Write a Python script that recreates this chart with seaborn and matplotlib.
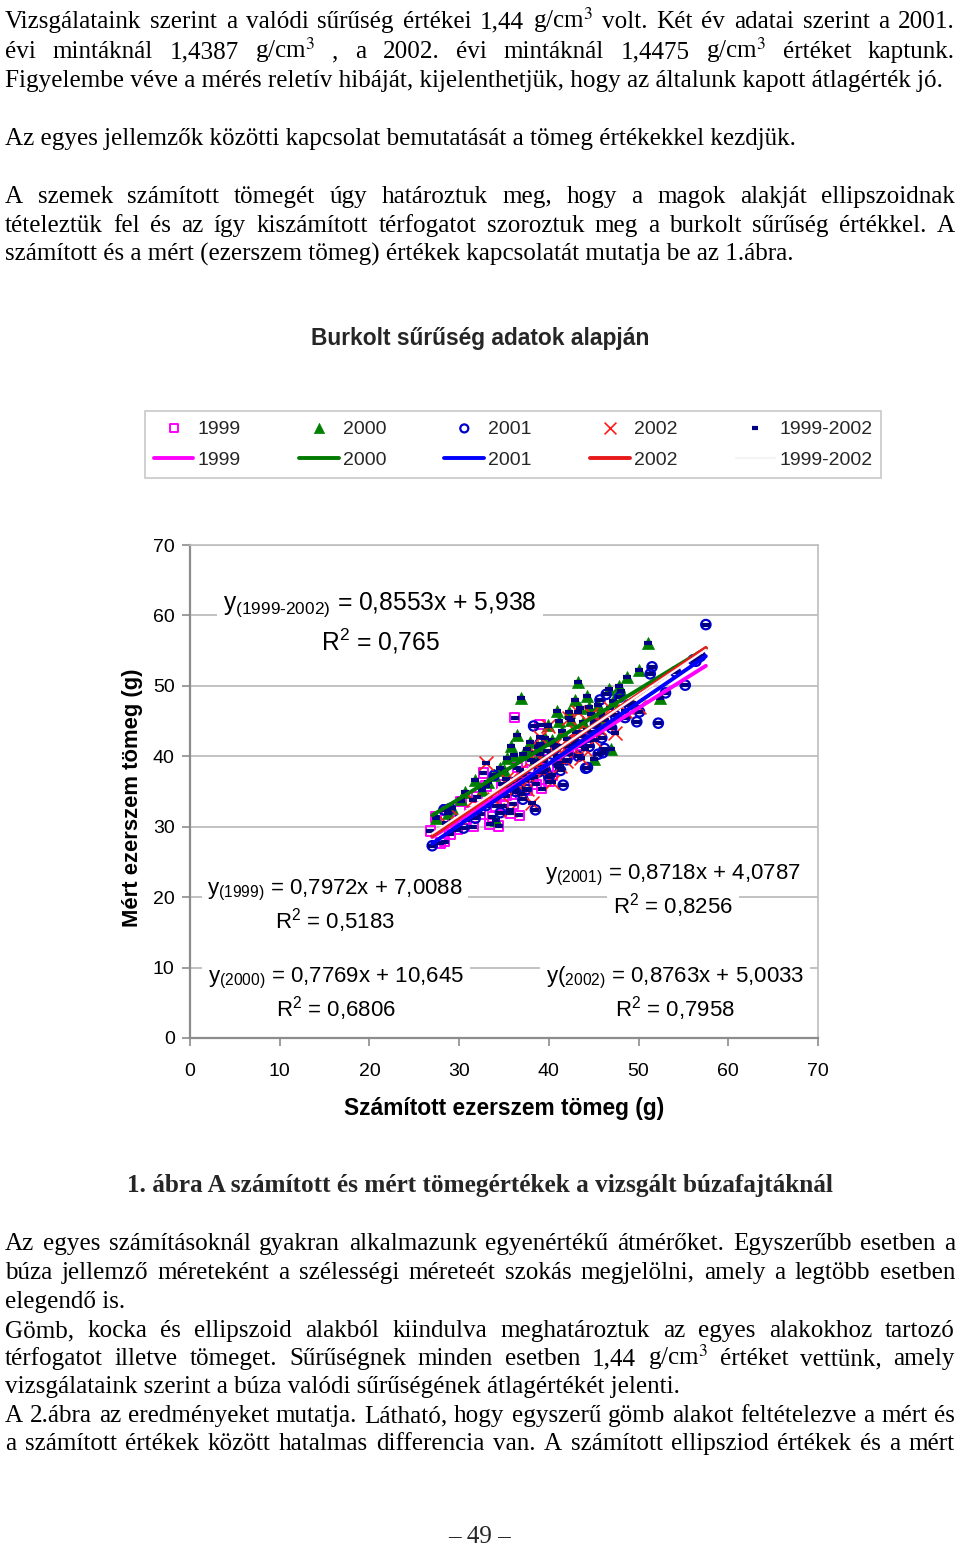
import numpy as np
import pandas as pd
import matplotlib
matplotlib.use("Agg")
import matplotlib.pyplot as plt
import seaborn as sns

# ---------------- data ----------------
years = ["1999", "2000", "2001", "2002", "1999-2002"]

x1999 = [26.8, 27.4, 27.9, 28.4, 28.6, 29.3, 29.8, 30.2, 30.8, 31.6, 32.0, 32.7, 33.0, 33.4, 33.7, 34.1, 34.4,
         34.8, 35.2, 35.7, 36.2, 36.5, 36.7, 37.1, 37.6, 38.0, 38.6, 39.0, 39.2, 39.8, 40.4, 41.0, 42.2, 43.5,
         34.9, 35.5, 36.0, 36.9, 37.3, 38.3, 39.5, 40.0, 31.2, 32.4, 29.0]
y1999 = [29.4, 31.4, 27.7, 27.9, 32.4, 30.8, 29.6, 33.6, 31.0, 30.0, 34.2, 37.6, 35.8, 30.4, 31.4, 32.9, 30.1,
         36.0, 34.4, 31.9, 45.5, 38.4, 31.6, 37.8, 35.2, 39.5, 36.0, 44.5, 35.4, 40.8, 37.3, 38.6, 40.3, 41.5,
         33.0, 35.8, 33.2, 34.6, 36.6, 37.0, 38.2, 36.4, 32.2, 31.8, 28.9]

x2000 = [27.4, 28.8, 29.2, 30.2, 30.6, 31.8, 32.5, 33.2, 33.9, 34.1, 34.6, 35.3, 35.8, 36.4, 36.9, 37.1, 37.6,
         38.3, 39.0, 39.6, 40.4, 40.9, 41.5, 42.2, 42.9, 43.2, 43.8, 44.5, 45.0, 45.8, 46.7, 46.9, 47.8, 48.7,
         49.3, 50.1, 51.0, 52.4, 35.0, 36.1, 37.9, 38.8, 39.9, 41.1, 42.5, 43.5, 44.2, 45.5, 46.3, 47.2, 48.0]
y2000 = [31.3, 32.0, 32.6, 33.9, 34.9, 36.6, 35.2, 36.3, 37.3, 30.9, 38.4, 39.8, 41.5, 43.0, 48.3, 40.3, 41.1,
         39.2, 40.3, 42.6, 42.3, 46.5, 43.6, 46.3, 48.0, 50.5, 44.8, 47.0, 39.6, 46.0, 49.5, 41.1, 50.0, 51.2,
         47.6, 52.3, 56.1, 48.3, 38.0, 40.2, 42.0, 41.3, 44.5, 45.0, 45.2, 46.8, 48.5, 47.3, 45.1, 47.9, 49.2]

x2001 = [27.0, 28.3, 29.0, 30.5, 31.8, 33.0, 33.9, 34.6, 35.7, 36.3, 37.1, 37.8, 38.3, 38.5, 39.0, 39.6, 40.4,
         41.0, 41.6, 42.2, 42.7, 43.3, 44.1, 44.3, 44.8, 45.5, 45.7, 45.9, 46.0, 46.2, 46.4, 47.0, 47.9, 48.5,
         49.8, 50.1, 51.3, 51.5, 52.2, 54.1, 55.2, 56.1, 56.4, 56.9, 57.5,
         36.8, 37.5, 38.9, 39.3, 40.0, 40.8, 41.3, 42.0, 42.9, 43.6, 44.5, 45.2, 47.4, 48.9, 53.0]
y2001 = [27.3, 32.4, 32.6, 29.8, 31.2, 33.0, 37.3, 32.0, 36.3, 35.0, 33.9, 37.0, 44.3, 32.4, 41.8, 38.0, 40.3,
         39.0, 35.9, 41.5, 42.3, 40.0, 38.3, 38.4, 43.5, 40.3, 48.0, 42.6, 40.5, 41.1, 48.8, 44.0, 48.4, 45.5,
         44.9, 46.3, 51.7, 52.7, 44.7, 52.0, 50.1, 53.7, 53.5, 54.2, 58.7,
         36.6, 35.3, 37.8, 39.4, 37.1, 41.2, 38.0, 39.5, 41.8, 42.9, 41.4, 44.6, 45.8, 47.3, 49.0]

x2002 = [28.5, 30.0, 31.5, 33.0, 33.9, 34.8, 35.2, 35.7, 36.2, 36.8, 37.1, 37.6, 38.1, 38.6, 39.0, 39.5, 39.9,
         40.4, 40.9, 41.4, 41.9, 42.2, 42.7, 43.2, 43.6, 44.3, 45.0, 45.0, 46.0, 47.4, 48.5, 50.0,
         36.5, 37.9, 38.4, 39.2, 40.6, 41.2, 42.0, 43.0, 44.0, 44.7, 45.6, 46.8]
y2002 = [30.5, 31.4, 33.8, 39.1, 33.9, 34.4, 36.8, 32.4, 35.4, 38.0, 37.3, 35.4, 33.4, 39.3, 42.8, 38.5, 44.3,
         36.3, 40.0, 41.5, 39.3, 45.5, 41.3, 46.3, 39.8, 43.8, 44.8, 42.3, 45.5, 43.3, 46.5, 47.0,
         36.0, 36.9, 40.4, 37.7, 41.6, 38.6, 42.4, 43.4, 41.0, 46.0, 44.0, 46.9]

# trendline coefficients (1999, 2000, 2001, 2002, 1999-2002)
slopes = [0.7972, 0.7769, 0.8718, 0.8763, 0.8553]
intercepts = [7.0088, 10.645, 4.0787, 5.0033, 5.938]
r2_values = [0.5183, 0.6806, 0.8256, 0.7958, 0.765]
trend_x_range = [27.0, 57.5]

x_ticks = [0, 10, 20, 30, 40, 50, 60, 70]
y_ticks = [0, 10, 20, 30, 40, 50, 60, 70]

title = "Burkolt sűrűség adatok alapján"
xlabel = "Számított ezerszem tömeg (g)"
ylabel = "Mért ezerszem tömeg (g)"
caption = "1. ábra A számított és mért tömegértékek a vizsgált búzafajtáknál"

top_lines = [
    ("Vizsgálataink szerint a valódi sűrűség értékei 1,44 g/cm$^3$ volt. Két év adatai szerint a 2001.", 28, True),
    ("évi mintáknál 1,4387 g/cm$^3$ , a 2002. évi mintáknál 1,4475 g/cm$^3$ értéket kaptunk.", 58, True),
    ("Figyelembe véve a mérés reletív hibáját, kijelenthetjük, hogy az általunk kapott átlagérték jó.", 87, False),
    ("Az egyes jellemzők közötti kapcsolat bemutatását a tömeg értékekkel kezdjük.", 145, False),
    ("A szemek számított tömegét úgy határoztuk meg, hogy a magok alakját ellipszoidnak", 203, True),
    ("tételeztük fel és az így kiszámított térfogatot szoroztuk meg a burkolt sűrűség értékkel. A", 232, True),
    ("számított és a mért (ezerszem tömeg) értékek kapcsolatát mutatja be az 1.ábra.", 261, False),
]
bottom_lines = [
    ("Az egyes számításoknál gyakran alkalmazunk egyenértékű átmérőket. Egyszerűbb esetben a", 1250, True),
    ("búza jellemző méreteként a szélességi méreteét szokás megjelölni, amely a legtöbb esetben", 1279, True),
    ("elegendő is.", 1308, False),
    ("Gömb, kocka és ellipszoid alakból kiindulva meghatároztuk az egyes alakokhoz tartozó", 1337, True),
    ("térfogatot illetve tömeget. Sűrűségnek minden esetben 1,44 g/cm$^3$ értéket vettünk, amely", 1365, True),
    ("vizsgálataink szerint a búza valódi sűrűségének átlagértékét jelenti.", 1393, False),
    ("A 2.ábra az eredményeket mutatja. Látható, hogy egyszerű gömb alakot feltételezve a mért és", 1422, True),
    ("a számított értékek között hatalmas differencia van. A számított ellipsziod értékek és a mért", 1450, True),
]
page_number = "– 49 –"

# ---------------- style ----------------
sns.set_theme(style="white")
plt.rcParams["font.family"] = ["Liberation Sans", "DejaVu Sans"]
plt.rcParams["mathtext.fontset"] = "custom"
plt.rcParams["mathtext.rm"] = "Liberation Sans"
plt.rcParams["mathtext.it"] = "Liberation Sans"
plt.rcParams["mathtext.bf"] = "Liberation Sans:bold"
SERIF = ["Liberation Serif", "DejaVu Serif"]

W, H = 960, 1545
fig = plt.figure(figsize=(W / 100, H / 100), dpi=100)
fig.patch.set_facecolor("white")
renderer = fig.canvas.get_renderer()


def fx(px):
    return px / W


def fy(py):
    return 1 - py / H


def width_of(t):
    return t.get_window_extent(renderer=renderer).width


# body font size fitted to a reference line width
probe = fig.text(0, 0, top_lines[3][0], fontsize=12, family=SERIF)
BODY_FS = 12 * 792 / width_of(probe)
probe.remove()


def put_line(s, baseline, justify, x0=5, x1=955):
    if not justify:
        fig.text(fx(x0), fy(baseline), s, fontsize=BODY_FS, family=SERIF,
                 math_fontfamily="stix", ha="left", va="baseline", color="black")
        return
    words = [w for w in s.split(" ") if w]
    ts = [fig.text(0, fy(baseline), w, fontsize=BODY_FS, family=SERIF,
                   math_fontfamily="stix", ha="left", va="baseline", color="black") for w in words]
    ws = [width_of(t) for t in ts]
    gap = (x1 - x0 - sum(ws)) / (len(ws) - 1)
    x = x0
    for t, w in zip(ts, ws):
        t.set_x(fx(x))
        x += w + gap


for s, b, j in top_lines + bottom_lines:
    put_line(s, b, j)

cap = fig.text(fx(480), fy(1192), caption, fontsize=BODY_FS, family=SERIF,
               fontweight="bold", ha="center", va="baseline")
cap.set_fontsize(BODY_FS * 705 / width_of(cap))
fig.text(fx(480), fy(1543), page_number, fontsize=BODY_FS, family=SERIF, ha="center", va="baseline")

# ---------------- chart ----------------
ttl = fig.text(fx(480), fy(338), title, fontsize=15, fontweight="bold", ha="center", va="center")
ttl.set_fontsize(15 * 340 / width_of(ttl))

ax = fig.add_axes([fx(190), fy(1038), (818 - 190) / W, (1038 - 545) / H])
ax.set_facecolor("white")
ax.set_xlim(0, 70)
ax.set_ylim(0, 70)
ax.set_axisbelow(True)
ax.yaxis.grid(True, color="#bdbdbd", linewidth=1.3)
ax.xaxis.grid(False)

colors = ["#FF00FF", "#008000", "#0000CC", "#FF1A1A", "#F2F2F2"]
line_colors = ["#FF00FF", "#007A00", "#0000FF", "#E8191A", "#F4F4F4"]

sns.scatterplot(x=x1999, y=y1999, marker="s", s=46, facecolor="none", edgecolor=colors[0],
                linewidth=1.4, ax=ax, label="s0", zorder=3)
sns.scatterplot(x=x2000, y=y2000, marker="^", s=75, color=colors[1], edgecolor=colors[1],
                linewidth=0.5, ax=ax, label="s1", zorder=3)
sns.scatterplot(x=x2001, y=y2001, marker="o", s=46, facecolor="none", edgecolor=colors[2],
                linewidth=1.6, ax=ax, label="s2", zorder=3)
sns.scatterplot(x=x2002, y=y2002, marker="x", s=100, color=colors[3], linewidth=1.2,
                ax=ax, label="s3", zorder=3)
x_all = x1999 + x2000 + x2001 + x2002
y_all = y1999 + y2000 + y2001 + y2002
sns.scatterplot(x=x_all, y=y_all, marker="_", s=30, color="#000080", linewidth=3.0,
                ax=ax, label="s4", zorder=4)

for i in range(5):
    xs = np.array(trend_x_range)
    ys = slopes[i] * xs + intercepts[i]
    sns.lineplot(x=xs, y=ys, color=line_colors[i], linewidth=2.8 if i < 4 else 1.6,
                 ax=ax, label=f"l{i}", zorder=5 + i * 0.1)

ax.set_xticks(x_ticks)
ax.set_yticks(y_ticks)
ax.set_xticklabels([str(v) for v in x_ticks])
ax.set_yticklabels([str(v) for v in y_ticks])
ax.tick_params(axis="both", which="major", direction="out", length=6, width=1.2,
               color="#8c8c8c", labelsize=14, labelcolor="black")
ax.tick_params(axis="x", pad=12, bottom=True)
ax.tick_params(axis="y", pad=5, left=True)
for side in ["left", "bottom"]:
    ax.spines[side].set_color("#8c8c8c")
    ax.spines[side].set_linewidth(1.6)
for side in ["top", "right"]:
    ax.spines[side].set_color("#bdbdbd")
    ax.spines[side].set_linewidth(1.2)
    ax.spines[side].set_visible(True)

xl = ax.set_xlabel(xlabel, fontsize=15, fontweight="bold", color="black")
xl.set_fontsize(15 * 324 / width_of(xl))
ax.xaxis.set_label_coords(0.5, -(1097 - 1038) / 493)
xl.set_va("top")
yl = ax.set_ylabel(ylabel, fontsize=15, fontweight="bold", color="black")
yl.set_fontsize(15 * 260 / yl.get_window_extent(renderer).height)
ax.yaxis.set_label_coords(-(190 - 143) / 628, (1038 - 798) / 493)


def fmt(v):
    return f"{v}".replace(".", ",")


eq_text = [
    (r"y$_{(1999)}$ = " + fmt(slopes[0]) + "x + " + fmt(intercepts[0]), 335, 894, 929, 16),
    (r"y$_{(2000)}$ = " + fmt(slopes[1]) + "x + " + fmt(intercepts[1]), 336, 982, 1017, 16),
    (r"y$_{(2001)}$ = " + fmt(slopes[2]) + "x + " + fmt(intercepts[2]), 673, 879, 914, 16),
    (r"y($_{2002)}$ = " + fmt(slopes[3]) + "x + " + fmt(intercepts[3]), 675, 982, 1017, 16),
    (r"y$_{(1999\text{-}2002)}$ = " + fmt(slopes[4]) + "x + " + fmt(intercepts[4]), 380, 610, 651, 17.7),
]
for i, (s, cx, b1, b2, fs) in enumerate(eq_text):
    box = dict(facecolor="white", edgecolor="none", boxstyle="square,pad=0.25")
    fig.text(fx(cx), fy(b1), s, fontsize=fs, ha="center", va="baseline", color="black",
             bbox=box, zorder=10)
    fig.text(fx(cx), fy(b2), r"R$^{2}$ = " + fmt(r2_values[i]), fontsize=fs, ha="center",
             va="baseline", color="black", bbox=box, zorder=10)

# legend built from the plotted artists
handles, labels = ax.get_legend_handles_labels()
hmap = dict(zip(labels, handles))
if ax.get_legend() is not None:
    ax.get_legend().remove()
order = []
order_labels = []
for i in range(5):
    order += [hmap[f"s{i}"], hmap[f"l{i}"]]
    order_labels += [years[i], years[i]]
leg = fig.legend(order, order_labels, ncol=5, loc="center",
                 bbox_to_anchor=(fx(513), fy(444.5)), fontsize=14, frameon=True,
                 fancybox=False, edgecolor="#c8c8c8", framealpha=1, handlelength=2.05,
                 handletextpad=0.2, columnspacing=3.0, labelspacing=0.72, borderpad=0.45,
                 borderaxespad=0, markerscale=0.85)
leg.get_frame().set_linewidth(1.2)

fig.savefig("out.png", dpi=100, facecolor="white")
